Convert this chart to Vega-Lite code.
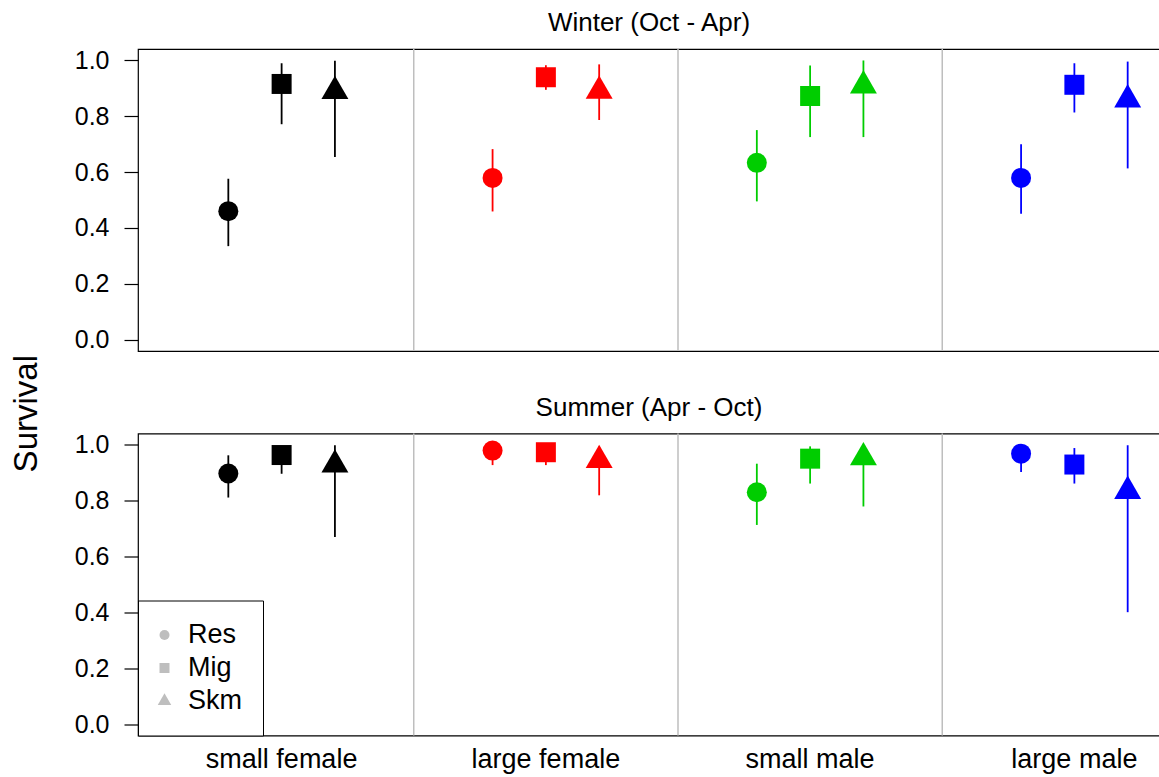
{
  "$schema": "https://vega.github.io/schema/vega-lite/v6.json",
  "background": "white",
  "padding": {"left": 10, "top": 9, "right": 0, "bottom": 0},
  "config": {
    "font": "Liberation Sans",
    "view": {"stroke": "black", "strokeWidth": 1.2},
    "title": {"fontSize": 26, "fontWeight": "normal", "color": "black", "anchor": "middle", "offset": 12, "baseline": "alphabetic"}
  },
  "datasets": {
    "surv": [
      {"season": "Winter", "group": "small female", "pop": "Res", "est": 0.460, "lo": 0.335, "hi": 0.576},
      {"season": "Winter", "group": "small female", "pop": "Mig", "est": 0.915, "lo": 0.771, "hi": 0.989},
      {"season": "Winter", "group": "small female", "pop": "Skm", "est": 0.889, "lo": 0.654, "hi": 0.998},
      {"season": "Winter", "group": "large female", "pop": "Res", "est": 0.579, "lo": 0.459, "hi": 0.682},
      {"season": "Winter", "group": "large female", "pop": "Mig", "est": 0.939, "lo": 0.894, "hi": 0.982},
      {"season": "Winter", "group": "large female", "pop": "Skm", "est": 0.890, "lo": 0.786, "hi": 0.985},
      {"season": "Winter", "group": "small male", "pop": "Res", "est": 0.633, "lo": 0.495, "hi": 0.750},
      {"season": "Winter", "group": "small male", "pop": "Mig", "est": 0.872, "lo": 0.725, "hi": 0.981},
      {"season": "Winter", "group": "small male", "pop": "Skm", "est": 0.909, "lo": 0.725, "hi": 0.999},
      {"season": "Winter", "group": "large male", "pop": "Res", "est": 0.579, "lo": 0.451, "hi": 0.699},
      {"season": "Winter", "group": "large male", "pop": "Mig", "est": 0.912, "lo": 0.813, "hi": 0.989},
      {"season": "Winter", "group": "large male", "pop": "Skm", "est": 0.859, "lo": 0.613, "hi": 0.995},
      {"season": "Summer", "group": "small female", "pop": "Res", "est": 0.897, "lo": 0.811, "hi": 0.962},
      {"season": "Summer", "group": "small female", "pop": "Mig", "est": 0.963, "lo": 0.896, "hi": 0.990},
      {"season": "Summer", "group": "small female", "pop": "Skm", "est": 0.928, "lo": 0.670, "hi": 0.998},
      {"season": "Summer", "group": "large female", "pop": "Res", "est": 0.979, "lo": 0.927, "hi": 0.995},
      {"season": "Summer", "group": "large female", "pop": "Mig", "est": 0.973, "lo": 0.927, "hi": 0.993},
      {"season": "Summer", "group": "large female", "pop": "Skm", "est": 0.944, "lo": 0.819, "hi": 0.993},
      {"season": "Summer", "group": "small male", "pop": "Res", "est": 0.830, "lo": 0.713, "hi": 0.932},
      {"season": "Summer", "group": "small male", "pop": "Mig", "est": 0.950, "lo": 0.861, "hi": 0.994},
      {"season": "Summer", "group": "small male", "pop": "Skm", "est": 0.954, "lo": 0.779, "hi": 0.995},
      {"season": "Summer", "group": "large male", "pop": "Res", "est": 0.968, "lo": 0.902, "hi": 0.992},
      {"season": "Summer", "group": "large male", "pop": "Mig", "est": 0.929, "lo": 0.861, "hi": 0.988},
      {"season": "Summer", "group": "large male", "pop": "Skm", "est": 0.834, "lo": 0.401, "hi": 0.998}
    ],
    "dividers": [
      {"group": "large female"},
      {"group": "small male"},
      {"group": "large male"}
    ],
    "ytitle": [
      {"label": "Survival"}
    ]
  },
  "spacing": 9,
  "hconcat": [
    {
      "width": 54,
      "height": 612,
      "view": {"stroke": null},
      "data": {"name": "ytitle"},
      "mark": {"type": "text", "angle": 270, "align": "right", "baseline": "alphabetic", "fontSize": 33, "color": "black"},
      "encoding": {"text": {"field": "label", "type": "nominal"}}
    },
    {
      "spacing": 39.5,
      "resolve": {"legend": {"shape": "independent"}},
      "vconcat": [
        {
          "width": 1022,
          "height": 302,
          "title": {"text": "Winter (Oct - Apr)"},
          "layer": [
            {
              "data": {"name": "dividers"},
              "mark": {"type": "rule", "color": "#bebebe", "strokeWidth": 1.5},
              "encoding": {
                "x": {"field": "group", "type": "nominal", "bandPosition": 0, "axis": null,
                      "scale": {"domain": ["small female", "large female", "small male", "large male"], "range": [0, 1080], "paddingInner": 0, "paddingOuter": 0.0435}}
              }
            },
            {
              "data": {"name": "surv"},
              "transform": [{"filter": "datum.season === 'Winter'"}],
              "mark": {"type": "rule", "strokeWidth": 1.8},
              "encoding": {
                "x": {"field": "group", "type": "nominal", "axis": null,
                      "scale": {"domain": ["small female", "large female", "small male", "large male"], "range": [0, 1080], "paddingInner": 0, "paddingOuter": 0.0435}},
                "xOffset": {"field": "pop", "type": "nominal", "scale": {"domain": ["Res", "Mig", "Skm"], "paddingInner": 0, "paddingOuter": 0.979}},
                "y": {"field": "lo", "type": "quantitative", "scale": {"domain": [-0.04, 1.04], "nice": false, "zero": false},
                      "axis": {"values": [0, 0.2, 0.4, 0.6, 0.8, 1], "format": ".1f", "domain": false, "grid": false, "tickSize": 14, "tickColor": "black", "tickWidth": 1.2,
                               "labelFontSize": 25, "labelColor": "black", "labelPadding": 15, "title": null}},
                "y2": {"field": "hi"},
                "color": {"field": "group", "type": "nominal", "legend": null,
                          "scale": {"domain": ["small female", "large female", "small male", "large male"], "range": ["#000000", "#FF0000", "#00CD00", "#0000FF"]}}
              }
            },
            {
              "data": {"name": "surv"},
              "transform": [{"filter": "datum.season === 'Winter'"}],
              "mark": {"type": "point", "filled": true, "opacity": 1, "size": 400, "strokeWidth": 0},
              "encoding": {
                "x": {"field": "group", "type": "nominal", "axis": null,
                      "scale": {"domain": ["small female", "large female", "small male", "large male"], "range": [0, 1080], "paddingInner": 0, "paddingOuter": 0.0435}},
                "xOffset": {"field": "pop", "type": "nominal", "scale": {"domain": ["Res", "Mig", "Skm"], "paddingInner": 0, "paddingOuter": 0.979}},
                "y": {"field": "est", "type": "quantitative", "scale": {"domain": [-0.04, 1.04], "nice": false, "zero": false},
                      "axis": {"values": [0, 0.2, 0.4, 0.6, 0.8, 1], "format": ".1f", "domain": false, "grid": false, "tickSize": 14, "tickColor": "black", "tickWidth": 1.2,
                               "labelFontSize": 25, "labelColor": "black", "labelPadding": 15, "title": null}},
                "shape": {"field": "pop", "type": "nominal", "legend": null,
                          "scale": {"domain": ["Res", "Mig", "Skm"], "range": ["circle", "square", "M0,-1.555L1.347,0.778L-1.347,0.778Z"]}},
                "color": {"field": "group", "type": "nominal", "legend": null,
                          "scale": {"domain": ["small female", "large female", "small male", "large male"], "range": ["#000000", "#FF0000", "#00CD00", "#0000FF"]}}
              }
            }
          ]
        },
        {
          "width": 1022,
          "height": 302,
          "title": {"text": "Summer (Apr - Oct)"},
          "layer": [
            {
              "data": {"name": "dividers"},
              "mark": {"type": "rule", "color": "#bebebe", "strokeWidth": 1.5},
              "encoding": {
                "x": {"field": "group", "type": "nominal", "bandPosition": 0,
                      "axis": {"title": null, "ticks": false, "domain": false, "labelAngle": 0, "labelFontSize": 27, "labelColor": "black", "labelPadding": 11, "labelBaseline": "top"},
                      "scale": {"domain": ["small female", "large female", "small male", "large male"], "range": [0, 1080], "paddingInner": 0, "paddingOuter": 0.0435}}
              }
            },
            {
              "data": {"name": "surv"},
              "transform": [{"filter": "datum.season === 'Summer'"}],
              "mark": {"type": "rule", "strokeWidth": 1.8},
              "encoding": {
                "x": {"field": "group", "type": "nominal",
                      "axis": {"title": null, "ticks": false, "domain": false, "labelAngle": 0, "labelFontSize": 27, "labelColor": "black", "labelPadding": 11, "labelBaseline": "top"},
                      "scale": {"domain": ["small female", "large female", "small male", "large male"], "range": [0, 1080], "paddingInner": 0, "paddingOuter": 0.0435}},
                "xOffset": {"field": "pop", "type": "nominal", "scale": {"domain": ["Res", "Mig", "Skm"], "paddingInner": 0, "paddingOuter": 0.979}},
                "y": {"field": "lo", "type": "quantitative", "scale": {"domain": [-0.04, 1.04], "nice": false, "zero": false},
                      "axis": {"values": [0, 0.2, 0.4, 0.6, 0.8, 1], "format": ".1f", "domain": false, "grid": false, "tickSize": 14, "tickColor": "black", "tickWidth": 1.2,
                               "labelFontSize": 25, "labelColor": "black", "labelPadding": 15, "title": null}},
                "y2": {"field": "hi"},
                "color": {"field": "group", "type": "nominal", "legend": null,
                          "scale": {"domain": ["small female", "large female", "small male", "large male"], "range": ["#000000", "#FF0000", "#00CD00", "#0000FF"]}}
              }
            },
            {
              "data": {"name": "surv"},
              "transform": [{"filter": "datum.season === 'Summer'"}],
              "mark": {"type": "point", "filled": true, "opacity": 1, "size": 400, "strokeWidth": 0},
              "encoding": {
                "x": {"field": "group", "type": "nominal",
                      "axis": {"title": null, "ticks": false, "domain": false, "labelAngle": 0, "labelFontSize": 27, "labelColor": "black", "labelPadding": 11, "labelBaseline": "top"},
                      "scale": {"domain": ["small female", "large female", "small male", "large male"], "range": [0, 1080], "paddingInner": 0, "paddingOuter": 0.0435}},
                "xOffset": {"field": "pop", "type": "nominal", "scale": {"domain": ["Res", "Mig", "Skm"], "paddingInner": 0, "paddingOuter": 0.979}},
                "y": {"field": "est", "type": "quantitative", "scale": {"domain": [-0.04, 1.04], "nice": false, "zero": false},
                      "axis": {"values": [0, 0.2, 0.4, 0.6, 0.8, 1], "format": ".1f", "domain": false, "grid": false, "tickSize": 14, "tickColor": "black", "tickWidth": 1.2,
                               "labelFontSize": 25, "labelColor": "black", "labelPadding": 15, "title": null}},
                "shape": {"field": "pop", "type": "nominal",
                          "scale": {"domain": ["Res", "Mig", "Skm"], "range": ["circle", "square", "M0,-1.555L1.347,0.778L-1.347,0.778Z"]},
                          "legend": {"title": null, "orient": "bottom-left", "offset": 0, "padding": 21, "rowPadding": 5, "labelOffset": 10, "symbolOffset": -8,
                                     "labelFontSize": 27, "labelColor": "black", "symbolSize": 100,
                                     "symbolFillColor": "#bebebe", "symbolStrokeWidth": 0,
                                     "strokeColor": "black", "fillColor": "white", "cornerRadius": 0}},
                "color": {"field": "group", "type": "nominal", "legend": null,
                          "scale": {"domain": ["small female", "large female", "small male", "large male"], "range": ["#000000", "#FF0000", "#00CD00", "#0000FF"]}}
              }
            }
          ]
        }
      ]
    }
  ]
}
